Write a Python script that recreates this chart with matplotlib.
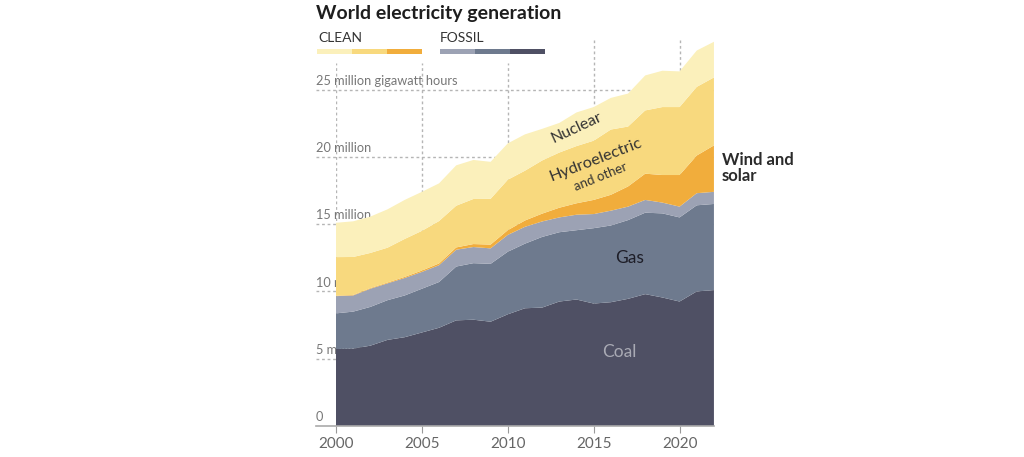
import matplotlib
matplotlib.use("Agg")
import matplotlib.pyplot as plt
from matplotlib.patches import Rectangle

plt.rcParams['font.family'] = ['Lato', 'DejaVu Sans']

# dados (milhões de GWh)
anos = list(range(2000, 2023))
carvao = [5.72, 5.75, 5.97, 6.40, 6.60, 6.95, 7.30, 7.85, 7.90, 7.75, 8.30, 8.75,
          8.80, 9.25, 9.40, 9.10, 9.20, 9.45, 9.80, 9.55, 9.25, 10.00, 10.10]
gas = [2.65, 2.75, 2.88, 2.95, 3.10, 3.25, 3.40, 4.00, 4.20, 4.30, 4.65, 4.80,
       5.25, 5.15, 5.15, 5.60, 5.70, 5.85, 6.05, 6.25, 6.25, 6.40, 6.40]
petroleo = [1.28, 1.20, 1.35, 1.25, 1.30, 1.25, 1.25, 1.25, 1.20, 1.15, 1.25, 1.25,
            1.15, 1.10, 1.15, 1.05, 1.10, 1.00, 0.95, 0.80, 0.80, 0.90, 0.90]
eolica_solar = [0.03, 0.04, 0.05, 0.06, 0.08, 0.10, 0.13, 0.17, 0.22, 0.28, 0.35, 0.47,
                0.58, 0.72, 0.85, 1.05, 1.18, 1.50, 1.95, 2.05, 2.35, 2.80, 3.45]
hidro = [2.87, 2.82, 2.61, 2.59, 2.82, 2.95, 3.15, 3.10, 3.35, 3.40, 3.75, 3.70,
         3.95, 4.10, 4.25, 4.40, 4.85, 4.45, 4.70, 5.05, 5.05, 5.10, 5.05]
nuclear = [2.55, 2.65, 2.70, 2.85, 2.90, 2.90, 2.80, 3.00, 2.90, 2.75, 2.70, 2.70,
           2.35, 2.20, 2.50, 2.50, 2.35, 2.45, 2.60, 2.70, 2.65, 2.70, 2.65]

cores = ['#4f5064', '#6e7a8e', '#9ca2b4', '#f1ad3c', '#f8d97e', '#fbf0bb']
ticks_y = [5, 10, 15, 20, 25]
rotulos_y = ['5 million', '10 million', '15 million', '20 million', '25 million gigawatt hours']
ticks_x = [2000, 2005, 2010, 2015, 2020]

fig = plt.figure(figsize=(10.24, 4.57), dpi=100)
ax = fig.add_axes([0.3281, 0.0678, 0.3691, 0.8446])
ax.set_xlim(2000, 2022)
ax.set_ylim(0, 28.68)
for s in ax.spines.values():
    s.set_visible(False)
ax.set_yticks([])
ax.set_xticks(ticks_x)
ax.set_xticklabels([str(a) for a in ticks_x], fontsize=11, color='#666666')
ax.tick_params(axis='x', length=5, color='#999999', pad=3)

ax.stackplot(anos, carvao, gas, petroleo, eolica_solar, hidro, nuclear,
             colors=cores, linewidth=0, zorder=3)

x0 = 1998.84
cinza = '#b5b5b5'
for v, r in zip(ticks_y, rotulos_y):
    ax.plot([x0, 2022], [v, v], color=cinza, lw=1, ls=(0, (2, 2)),
            clip_on=False, zorder=1)
    ax.annotate(r, (x0, v), xytext=(0, 2), textcoords='offset points',
                ha='left', va='bottom', fontsize=9.2, color='#777777',
                annotation_clip=False, zorder=2)
ax.annotate('0', (x0, 0), xytext=(0, 2), textcoords='offset points',
            ha='left', va='bottom', fontsize=9.2, color='#777777',
            annotation_clip=False, zorder=2)
ax.plot([x0, 2022], [0, 0], color='#aaaaaa', lw=1.2, clip_on=False, zorder=4)

for a in ticks_x:
    topo = 28.68 if a >= 2015 else 27.0
    ax.plot([a, a], [0, topo], color=cinza, lw=1, ls=(0, (2, 2)), zorder=1)

# rótulos
ax.text(2014.0, 22.14, 'Nuclear', rotation=25, ha='center', va='center',
        fontsize=11.5, color='#333333', zorder=5)
ax.text(2015.1, 19.76, 'Hydroelectric', rotation=21, ha='center', va='center',
        fontsize=11.8, color='#333333', zorder=5)
ax.text(2015.4, 18.55, 'and other', rotation=22, ha='center', va='center',
        fontsize=9.5, color='#333333', zorder=5)
ax.text(2017.1, 12.48, 'Gas', ha='center', va='center',
        fontsize=12.5, color='#1e1e28', zorder=5)
ax.text(2016.5, 5.5, 'Coal', ha='center', va='center',
        fontsize=12.5, color='#a9aab4', zorder=5)
ax.text(2022.47, 19.2, 'Wind and\nsolar', ha='left', va='center',
        fontsize=12, fontweight='bold', color='#2b2b2b', linespacing=1.0,
        clip_on=False, zorder=5)

# título e legenda
fig.text(316 / 1024, 1 - 14 / 457, 'World electricity generation', ha='left',
         va='center', fontsize=14, fontweight='bold', color='#1e1e1e')
fig.text(318 / 1024, 1 - 38 / 457, 'CLEAN', ha='left', va='center',
         fontsize=10, color='#333333')
fig.text(440 / 1024, 1 - 38 / 457, 'FOSSIL', ha='left', va='center',
         fontsize=10, color='#333333')
largura = 35 / 1024
for i, c in enumerate([cores[5], cores[4], cores[3]]):
    fig.add_artist(Rectangle((317 / 1024 + i * largura, 1 - 54 / 457), largura, 5 / 457,
                             facecolor=c, edgecolor='none', transform=fig.transFigure))
for i, c in enumerate([cores[2], cores[1], cores[0]]):
    fig.add_artist(Rectangle((440 / 1024 + i * largura, 1 - 54 / 457), largura, 5 / 457,
                             facecolor=c, edgecolor='none', transform=fig.transFigure))

fig.savefig('out.png', dpi=100)
